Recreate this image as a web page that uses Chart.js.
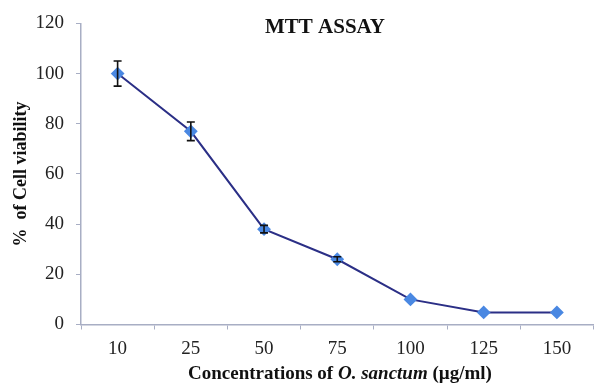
<!DOCTYPE html>
<html lang="en">
  <head>
    <meta charset="UTF-8" />
    <title>MTT Assay</title>
    <style>
      html, body { margin: 0; padding: 0; background: #fff; overflow: hidden; }
      .graphDiv { width: 601px; height: 383px; }
    </style>
  </head>
  <body>
    <div class="graphDiv">
      <canvas id="myChart" width="601" height="383"></canvas>
    </div>
    <script src="https://cdn.jsdelivr.net/npm/chart.js"></script>
    <script>
      // concentrations (ug/ml) and cell viability
      const concentrations = ["10", "25", "50", "75", "100", "125", "150"];
      const viability = [100, 77, 38, 26, 10, 4.8, 4.8];
      const errors = [5, 3.7, 1.5, 1, 0, 0, 0];
      const yTicks = [0, 20, 40, 60, 80, 100, 120];

      const serif = "'Liberation Serif', 'DejaVu Serif', serif";

      // error bars drawn from the y scale
      const errorBars = {
        id: "errorBars",
        afterDatasetsDraw(chart) {
          const meta = chart.getDatasetMeta(0);
          const y = chart.scales.y;
          const ctx = chart.ctx;
          ctx.save();
          ctx.strokeStyle = "#111";
          ctx.lineWidth = 1.6;
          meta.data.forEach((pt, i) => {
            if (!errors[i]) return;
            const top = y.getPixelForValue(viability[i] + errors[i]);
            const bot = y.getPixelForValue(viability[i] - errors[i]);
            ctx.beginPath();
            ctx.moveTo(pt.x, top);
            ctx.lineTo(pt.x, bot);
            ctx.moveTo(pt.x - 4, top);
            ctx.lineTo(pt.x + 4, top);
            ctx.moveTo(pt.x - 4, bot);
            ctx.lineTo(pt.x + 4, bot);
            ctx.stroke();
          });
          ctx.restore();
        },
      };

      // chart title inside the plot and x title with italic species name
      const titles = {
        id: "titles",
        afterDraw(chart) {
          const ctx = chart.ctx;
          ctx.save();
          ctx.fillStyle = "#111";
          ctx.textBaseline = "middle";
          ctx.textAlign = "center";
          ctx.font = "bold 21px " + serif;
          ctx.fillText("MTT ASSAY", 325, 28);

          const parts = [
            ["bold 19px " + serif, "Concentrations of "],
            ["bold italic 19px " + serif, "O. sanctum"],
            ["bold 19px " + serif, " (\u00b5g/ml)"],
          ];
          let total = 0;
          parts.forEach(([f, t]) => { ctx.font = f; total += ctx.measureText(t).width; });
          let x = 340 - total / 2;
          ctx.textAlign = "left";
          parts.forEach(([f, t]) => {
            ctx.font = f;
            ctx.fillText(t, x, 374);
            x += ctx.measureText(t).width;
          });
          ctx.restore();
        },
      };

      const ctx = document.getElementById("myChart").getContext("2d");
      const myChart = new Chart(ctx, {
        type: "line",
        data: {
          labels: concentrations,
          datasets: [
            {
              label: "Cell viability",
              data: viability,
              borderColor: "#2b2f86",
              borderWidth: 2,
              pointStyle: "rectRot",
              pointRadius: 5.5,
              pointBackgroundColor: "#4a88e2",
              pointBorderColor: "#4a88e2",
              tension: 0,
            },
          ],
        },
        options: {
          responsive: false,
          animation: false,
          layout: { padding: { top: 22, right: 0, bottom: 0, left: 0 } },
          plugins: {
            legend: { display: false },
            tooltip: { enabled: false },
          },
          scales: {
            x: {
              offset: true,
              afterFit(scale) { scale.height = 58.5; },
              grid: {
                offset: true,
                drawOnChartArea: false,
                color: "#a8aec4",
                tickLength: 5,
              },
              border: { color: "#a8aec4", width: 1.5 },
              ticks: {
                color: "#222",
                font: { family: serif, size: 19 },
                padding: 8,
                maxRotation: 0,
              },
            },
            y: {
              min: 0,
              max: 120,
              afterFit(scale) { scale.width = 81; },
              afterBuildTicks(scale) {
                scale.ticks = yTicks.map((v) => ({ value: v }));
              },
              grid: {
                drawOnChartArea: false,
                color: "#a8aec4",
                tickLength: 5,
              },
              border: { color: "#a8aec4", width: 1.5 },
              ticks: {
                color: "#222",
                font: { family: serif, size: 19 },
                padding: 12,
              },
              title: {
                display: true,
                text: "%  of Cell viability",
                color: "#111",
                font: { family: serif, size: 18, weight: "bold" },
                padding: { top: 11, bottom: 0 },
              },
            },
          },
        },
        plugins: [errorBars, titles],
      });
    </script>
  </body>
</html>
